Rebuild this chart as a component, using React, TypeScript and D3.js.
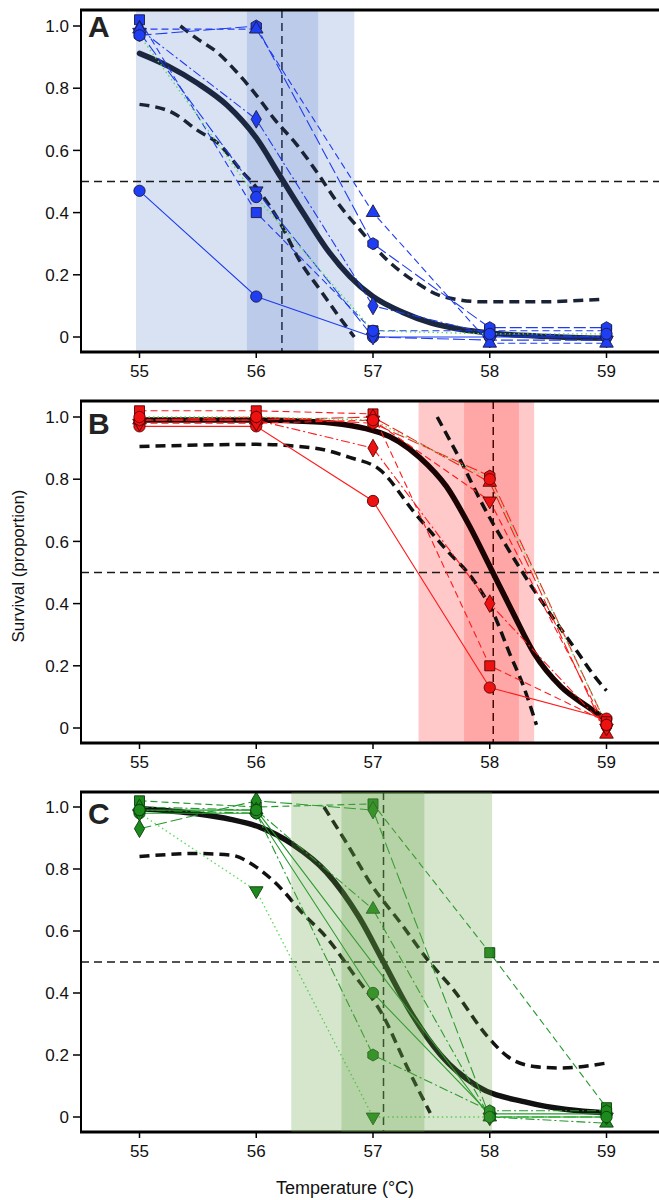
import React from 'react';
import * as d3 from 'd3';

// temperatures of the heat treatments
const temps = [55, 56, 57, 58, 59];
const yTicks = [0, 0.2, 0.4, 0.6, 0.8, 1.0];

// replicate survival, panel A
const aCircle = [0.47, 0.13, 0.0, 0.0, 0.0];
const aSquare = [1.02, 0.4, 0.02, 0.02, 0.02];
const aDiamond = [0.99, 0.7, 0.1, 0.01, 0.0];
const aTriDown = [0.98, 0.47, 0.0, -0.01, -0.01];
const aHexagon = [0.97, 1.0, 0.3, 0.03, 0.03];
const aTriUp = [0.99, 0.99, 0.4, -0.02, -0.02];
const aDotted = [0.97, 0.45, 0.02, 0.01, 0.01];

// replicate survival, panel B
const bCircle = [0.97, 0.97, 0.73, 0.13, 0.03];
const bSquare = [1.02, 1.02, 1.01, 0.2, 0.02];
const bDiamond = [0.99, 0.99, 0.9, 0.4, 0.0];
const bTriUp = [0.99, 0.99, 1.0, 0.79, -0.02];
const bTriDown = [0.98, 0.98, 0.99, 0.73, 0.0];
const bHexagon = [0.99, 1.0, 0.98, 0.81, 0.01];
const bDotted = [1.0, 1.0, 0.99, 0.8, 0.01];

// replicate survival, panel C (null = not measured)
const cCircle = [0.98, 0.98, 0.4, 0.01, 0.01];
const cSquare = [1.02, 1.0, 1.01, 0.53, 0.03];
const cDiamond = [0.93, 1.02, 0.99, 0.0, 0.0];
const cTriUp = [1.0, 0.99, 0.67, 0.0, -0.02];
const cTriDown = [0.98, 0.73, 0.0, 0.0, 0.0];
const cHexagon = [0.99, 0.98, 0.2, 0.02, 0.02];
const cSolid2 = [0.99, 0.99, null, 0.0, 0.0];

// fitted curves and their confidence limits [temp, survival]
const fitA: [number, number][] = [[55, 0.912], [55.25, 0.87], [55.5, 0.815], [55.75, 0.745], [56.0, 0.64], [56.2, 0.52], [56.4, 0.4], [56.6, 0.285], [56.8, 0.195], [57.0, 0.13], [57.25, 0.08], [57.5, 0.045], [57.75, 0.025], [58.0, 0.013], [58.5, 0.002], [59, -0.004]];
const upperA: [number, number][] = [[55.35, 1.0], [55.49, 0.96], [55.66, 0.917], [55.83, 0.853], [56.0, 0.778], [56.15, 0.703], [56.35, 0.617], [56.52, 0.53], [56.69, 0.435], [56.89, 0.344], [57.12, 0.248], [57.38, 0.173], [57.6, 0.13], [57.95, 0.113], [58.38, 0.113], [58.95, 0.121]];
const lowerA: [number, number][] = [[55, 0.748], [55.29, 0.72], [55.49, 0.666], [55.69, 0.617], [55.86, 0.54], [56.03, 0.467], [56.2, 0.37], [56.38, 0.24], [56.55, 0.15], [56.7, 0.07], [56.84, 0.0]];

const fitB: [number, number][] = [[55, 0.99], [56, 0.99], [56.5, 0.985], [57.06, 0.95], [57.4, 0.87], [57.63, 0.776], [57.83, 0.647], [58.0, 0.52], [58.2, 0.37], [58.38, 0.24], [58.61, 0.133], [58.84, 0.068], [59, 0.026]];
const upperB: [number, number][] = [[57.55, 1.0], [57.75, 0.86], [57.95, 0.71], [58.15, 0.58], [58.35, 0.46], [58.55, 0.35], [58.75, 0.245], [58.9, 0.165], [59, 0.12]];
const lowerB: [number, number][] = [[55, 0.905], [56, 0.912], [56.5, 0.9], [56.8, 0.87], [57.06, 0.83], [57.35, 0.695], [57.63, 0.572], [57.86, 0.476], [58.03, 0.37], [58.17, 0.24], [58.29, 0.133], [58.4, 0.01]];

const fitC: [number, number][] = [[55, 0.995], [55.49, 0.978], [55.78, 0.96], [56.03, 0.935], [56.31, 0.88], [56.6, 0.79], [56.88, 0.645], [57.09, 0.5], [57.32, 0.34], [57.58, 0.2], [57.89, 0.1], [58.32, 0.047], [59, 0.013]];
const upperC: [number, number][] = [[56.58, 1.0], [56.78, 0.88], [56.98, 0.753], [57.24, 0.624], [57.47, 0.506], [57.69, 0.41], [57.98, 0.26], [58.15, 0.196], [58.38, 0.163], [58.6, 0.158], [59, 0.174]];
const lowerC: [number, number][] = [[55, 0.84], [55.49, 0.85], [55.78, 0.845], [56.0, 0.806], [56.2, 0.742], [56.4, 0.656], [56.6, 0.58], [56.83, 0.463], [57.09, 0.324], [57.29, 0.163], [57.49, 0.013]];

// LT50 and its intervals: [outer lo, inner lo, inner hi, outer hi], and the LT50 itself
const bandA = [54.97, 55.92, 56.53, 56.84];
const bandB = [57.39, 57.78, 58.25, 58.38];
const bandC = [56.3, 56.73, 57.44, 58.02];
const lt50 = [56.22, 58.03, 57.09];

const dashes: Record<string, string> = {
  solid: '',
  dashed: '7,4',
  longdash: '12,4',
  dashdot: '9,3,2,3',
  dotted: '1.5,3',
};

const mkSeries = (vals: (number | null)[], shape: string, dash: string, light = false) => ({ vals, shape, dash, light });

const panels = [
  {
    letter: 'A', top: 10, bottom: 352, y1: 26, y0: 337, letterY: 37,
    line: '#1e3cf0', fill: '#1f3df2', edge: '#1a1a40',
    curve: '#1b2741', ci: '#1a2236', vline: '#1c2b4a',
    light: '#d9e2f3', dark: '#bccbe9', overlay: false,
    band: bandA, mid: lt50[0], fit: fitA, upper: upperA, lower: lowerA,
    series: [
      mkSeries(aCircle, 'circle', 'solid'),
      mkSeries(aSquare, 'square', 'dashed'),
      mkSeries(aDiamond, 'diamond', 'dashdot'),
      mkSeries(aTriDown, 'triDown', 'longdash'),
      mkSeries(aHexagon, 'hexagon', 'longdash'),
      mkSeries(aTriUp, 'triUp', 'dashed'),
      mkSeries(aDotted, 'circle', 'dotted', true),
    ],
  },
  {
    letter: 'B', top: 401, bottom: 743, y1: 417, y0: 728, letterY: 434,
    line: '#ff1a1a', fill: '#ee1111', edge: '#5a0000',
    curve: '#1a0303', ci: '#111111', vline: '#4a0505',
    light: '#ffc9c9', dark: '#ffa6a6', overlay: false,
    band: bandB, mid: lt50[1], fit: fitB, upper: upperB, lower: lowerB,
    series: [
      mkSeries(bCircle, 'circle', 'solid'),
      mkSeries(bSquare, 'square', 'dashed'),
      mkSeries(bDiamond, 'diamond', 'dashdot'),
      mkSeries(bTriUp, 'triUp', 'longdash'),
      mkSeries(bTriDown, 'triDown', 'dashed'),
      mkSeries(bHexagon, 'hexagon', 'longdash'),
      mkSeries(bDotted, 'circle', 'dotted', true),
    ],
  },
  {
    letter: 'C', top: 792, bottom: 1132, y1: 807, y0: 1117, letterY: 824,
    line: '#22992a', fill: '#1d8a1d', edge: '#0b3d0b',
    curve: '#111111', ci: '#111111', vline: '#1a1a1a',
    light: '', dark: '', overlay: true,
    band: bandC, mid: lt50[2], fit: fitC, upper: upperC, lower: lowerC,
    series: [
      mkSeries(cCircle, 'circle', 'solid'),
      mkSeries(cSquare, 'square', 'dashed'),
      mkSeries(cDiamond, 'diamond', 'longdash'),
      mkSeries(cTriUp, 'triUp', 'dashdot'),
      mkSeries(cTriDown, 'triDown', 'dotted', true),
      mkSeries(cHexagon, 'hexagon', 'dashdot'),
      mkSeries(cSolid2, 'circle', 'solid'),
    ],
  },
];

const x = d3.scaleLinear().domain([55, 59]).range([139.5, 606.5]);
const LEFT = 81;
const RIGHT = 659;
const FONT = 'Liberation Sans, Arial, Helvetica, sans-serif';

const hexPath = (r: number) => {
  const pts = d3.range(6).map((i) => {
    const a = (Math.PI / 3) * i - Math.PI / 2;
    return [r * Math.cos(a), r * Math.sin(a)];
  });
  return 'M' + pts.map((p) => p.join(',')).join('L') + 'Z';
};

const marker = (shape: string) => {
  if (shape === 'hexagon') return hexPath(6);
  if (shape === 'square') return d3.symbol().type(d3.symbolSquare).size(100)();
  if (shape === 'diamond') return d3.symbol().type(d3.symbolDiamond).size(90)();
  if (shape === 'triUp' || shape === 'triDown') return d3.symbol().type(d3.symbolTriangle).size(80)();
  return d3.symbol().type(d3.symbolCircle).size(100)();
};

const Panel = ({ p }: { p: any }) => {
  const y = d3.scaleLinear().domain([0, 1]).range([p.y0, p.y1]);
  const curve = d3.line<[number, number]>().x((d) => x(d[0])).y((d) => y(d[1])).curve(d3.curveMonotoneX);
  const bandRects = (fillA: string, fillB: string, op: number) => (
    <g>
      <rect x={x(p.band[0])} y={p.top} width={x(p.band[3]) - x(p.band[0])} height={p.bottom - p.top} fill={fillA} fillOpacity={op} />
      <rect x={x(p.band[1])} y={p.top} width={x(p.band[2]) - x(p.band[1])} height={p.bottom - p.top} fill={fillB} fillOpacity={op} />
    </g>
  );
  return (
    <g>
      {!p.overlay && bandRects(p.light, p.dark, 1)}
      <line x1={LEFT} x2={RIGHT} y1={y(0.5)} y2={y(0.5)} stroke="#1a1a1a" strokeWidth={1.5} strokeDasharray="8,5" />
      <line x1={x(p.mid)} x2={x(p.mid)} y1={p.top} y2={p.bottom} stroke={p.vline} strokeWidth={1.5} strokeDasharray="8,5" />
      <path d={curve(p.upper) || ''} fill="none" stroke={p.ci} strokeWidth={3.5} strokeDasharray="10,6" />
      <path d={curve(p.lower) || ''} fill="none" stroke={p.ci} strokeWidth={3.5} strokeDasharray="10,6" />
      <path d={curve(p.fit) || ''} fill="none" stroke={p.curve} strokeWidth={5.5} strokeLinecap="round" />
      {p.series.map((s: any, i: number) => {
        const pts = temps.map((t, j) => [t, s.vals[j]] as [number, number | null]).filter((d) => d[1] !== null) as [number, number][];
        const ln = d3.line<[number, number]>().x((d) => x(d[0])).y((d) => y(d[1]));
        return (
          <path key={'l' + i} d={ln(pts) || ''} fill="none" stroke={s.light ? '#5fdc5f' : p.line}
            strokeWidth={s.light ? 1.4 : 1.1} strokeDasharray={dashes[s.dash]} />
        );
      })}
      {p.series.map((s: any, i: number) =>
        temps.map((t, j) => {
          const v = s.vals[j];
          if (v === null) return null;
          const rot = s.shape === 'triDown' ? ' rotate(180)' : '';
          return (
            <path key={'m' + i + '-' + j} d={marker(s.shape) || ''} transform={`translate(${x(t)},${y(v)})${rot}`}
              fill={p.fill} stroke={p.edge} strokeWidth={0.9} />
          );
        })
      )}
      {/* frame */}
      <line x1={LEFT - 1} x2={RIGHT} y1={p.top} y2={p.top} stroke="#000" strokeWidth={3} />
      <line x1={LEFT} x2={LEFT} y1={p.top} y2={p.bottom} stroke="#000" strokeWidth={2} />
      <line x1={LEFT - 1} x2={RIGHT} y1={p.bottom} y2={p.bottom} stroke="#000" strokeWidth={3} />
      {p.overlay && bandRects('rgb(93,160,60)', 'rgb(93,160,60)', 0.26)}
      {temps.map((t) => (
        <g key={'xt' + t}>
          <line x1={x(t)} x2={x(t)} y1={p.bottom} y2={p.bottom + 6} stroke="#000" strokeWidth={1.5} />
          <text x={x(t)} y={p.bottom + 25} textAnchor="middle" fontFamily={FONT} fontSize={17} fill="#111">{t}</text>
        </g>
      ))}
      {yTicks.map((v) => (
        <g key={'yt' + v}>
          <line x1={LEFT - 8} x2={LEFT} y1={y(v)} y2={y(v)} stroke="#000" strokeWidth={1.5} />
          <text x={LEFT - 12} y={y(v)} dy="0.36em" textAnchor="end" fontFamily={FONT} fontSize={17} fill="#111">
            {v === 0 ? '0' : v.toFixed(1)}
          </text>
        </g>
      ))}
      <text x={88} y={p.letterY} fontFamily={FONT} fontWeight="bold" fontSize={30} fill="#222">{p.letter}</text>
    </g>
  );
};

export default function App() {
  return (
    <svg width={659} height={1200} style={{ display: 'block', position: 'absolute', left: 0, top: 0, background: '#fff' }}>
      <rect width={659} height={1200} fill="#fff" />
      {panels.map((p) => <Panel key={p.letter} p={p} />)}
      <text x={345} y={1194} textAnchor="middle" fontFamily={FONT} fontSize={18} fill="#111">Temperature (°C)</text>
      <text transform="translate(24,566) rotate(-90)" textAnchor="middle" fontFamily={FONT} fontSize={17} fill="#111">Survival (proportion)</text>
    </svg>
  );
}
